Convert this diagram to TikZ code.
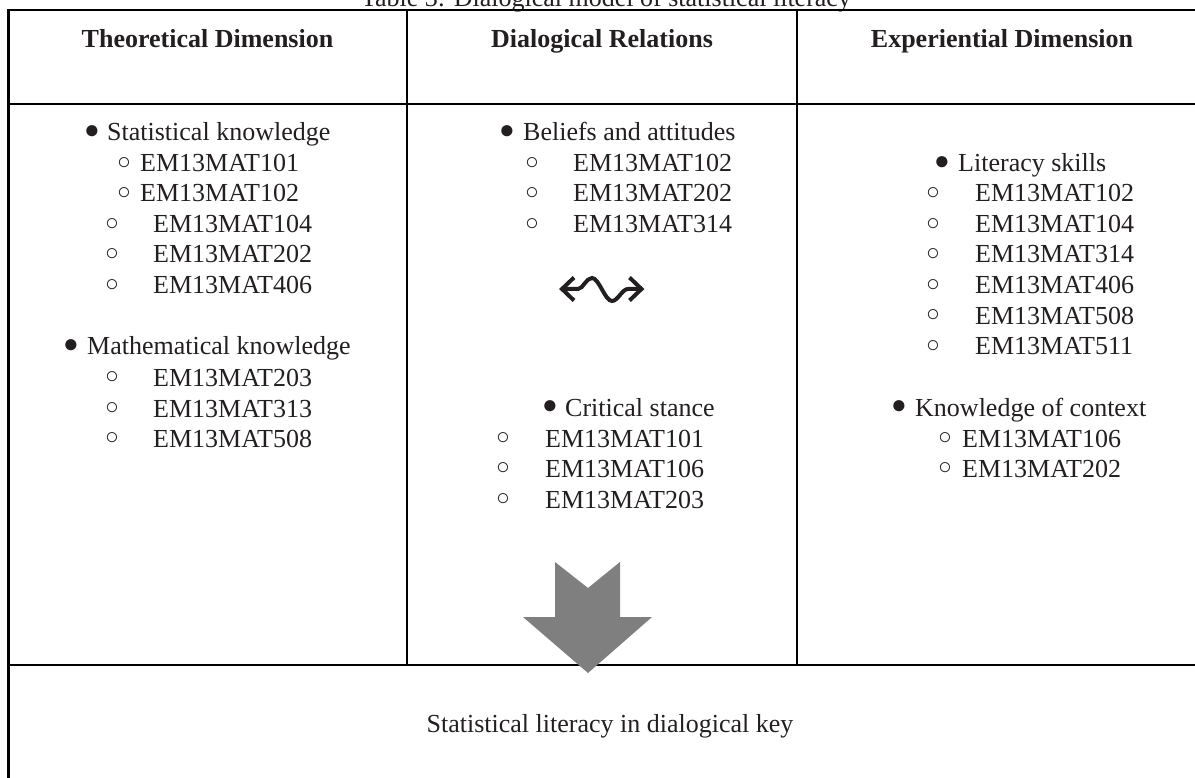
\documentclass[tikz,border=0pt]{standalone}
\usepackage{fontspec}
\usetikzlibrary{calc}
\setmainfont{Liberation Serif}
\definecolor{ink}{HTML}{231F20}
\definecolor{arrowgray}{HTML}{7F7F7F}
\newcommand{\lrow}[6]{%
  \node[blt] (#1b) at (#3,#5-8.5) {#2};
  \node[txt] (#1) at (#4,#5) {#6};}
\newcommand{\fb}{{\fontsize{26}{26}\selectfont ●}}
\newcommand{\hb}{{\fontsize{23}{23}\selectfont ○}}
\begin{document}
\begin{tikzpicture}[x=1pt,y=-1pt,
  txt/.style={anchor=base west, inner sep=0pt, font=\fontsize{26}{30}\selectfont, text=ink},
  ctxt/.style={anchor=base, inner sep=0pt, font=\fontsize{26}{30}\selectfont, text=ink},
  hdr/.style={anchor=base, inner sep=0pt, font=\fontsize{26}{30}\selectfont\bfseries, text=ink},
  blt/.style={anchor=center, inner sep=0pt, text=ink},
  rule/.style={line width=2.2pt, draw=black},
  wavepen/.style={line width=4pt, draw=ink, line join=miter}]
\useasboundingbox (0,0) rectangle (1195,778);
% title (cut off at top)
\node[ctxt] (title) at (606,7) {Table 3: Dialogical model of statistical literacy};
% table rules
\draw[rule] (8.5,10) -- (1197,10);
\draw[rule] (8.5,9) -- (8.5,780);
\draw[rule] (8.5,104) -- (1197,104);
\draw[rule] (407,10) -- (407,665);
\draw[rule] (797,10) -- (797,665);
\draw[rule] (8.5,665) -- (1197,665);
% headers
\node[hdr] (h1) at (207.5,48) {Theoretical Dimension};
\node[hdr] (h2) at (602,48) {Dialogical Relations};
\node[hdr] (h3) at (1002,48) {Experiential Dimension};
% column 1
\lrow{a1}{\fb}{92}{107}{141}{Statistical knowledge}
\lrow{a2}{\hb}{124}{140}{172}{EM13MAT101}
\lrow{a3}{\hb}{124}{140}{202}{EM13MAT102}
\lrow{a4}{\hb}{112}{153}{233}{EM13MAT104}
\lrow{a5}{\hb}{112}{153}{263}{EM13MAT202}
\lrow{a6}{\hb}{112}{153}{294}{EM13MAT406}
\lrow{a7}{\fb}{71}{87}{355}{Mathematical knowledge}
\lrow{a8}{\hb}{112}{153}{386}{EM13MAT203}
\lrow{a9}{\hb}{112}{153}{417}{EM13MAT313}
\lrow{a10}{\hb}{112}{153}{447}{EM13MAT508}
% column 2
\lrow{b1}{\fb}{507}{523}{141}{Beliefs and attitudes}
\lrow{b2}{\hb}{532}{573}{172}{EM13MAT102}
\lrow{b3}{\hb}{532}{573}{202}{EM13MAT202}
\lrow{b4}{\hb}{532}{573}{233}{EM13MAT314}
% wave double arrow
\coordinate (wl) at (562,289);
\coordinate (wr) at (641.5,289);
\draw[wavepen] (wl) -- (578,289) .. controls (583,289) and (586,278) .. (592,278)
  .. controls (599,278) and (605,301) .. (612,301)
  .. controls (618,301) and (622,289) .. (628,289) -- (wr);
\draw[wavepen] ($(wl)+(12,-11.5)$) -- (wl) -- ($(wl)+(12,11.5)$);
\draw[wavepen] ($(wr)+(-12,-11.5)$) -- (wr) -- ($(wr)+(-12,11.5)$);
\lrow{b5}{\fb}{550}{565}{416}{Critical stance}
\lrow{b6}{\hb}{503}{545}{447}{EM13MAT101}
\lrow{b7}{\hb}{503}{545}{477}{EM13MAT106}
\lrow{b8}{\hb}{503}{545}{508}{EM13MAT203}
% column 3
\lrow{c1}{\fb}{942}{958}{172}{Literacy skills}
\lrow{c2}{\hb}{933}{975}{202}{EM13MAT102}
\lrow{c3}{\hb}{933}{975}{233}{EM13MAT104}
\lrow{c4}{\hb}{933}{975}{263}{EM13MAT314}
\lrow{c5}{\hb}{933}{975}{294}{EM13MAT406}
\lrow{c6}{\hb}{933}{975}{324}{EM13MAT508}
\lrow{c7}{\hb}{933}{975}{355}{EM13MAT511}
\lrow{c8}{\fb}{899}{915}{416}{Knowledge of context}
\lrow{c9}{\hb}{945}{962}{447}{EM13MAT106}
\lrow{c10}{\hb}{945}{962}{477}{EM13MAT202}
% big arrow
\fill[arrowgray] (555,562) -- (588,588) -- (620,562) -- (620,617) -- (652,617) -- (588,673) -- (523,617) -- (555,617) -- cycle;
% bottom row
\node[ctxt] (result) at (610,732) {Statistical literacy in dialogical key};
\end{tikzpicture}
\end{document}
